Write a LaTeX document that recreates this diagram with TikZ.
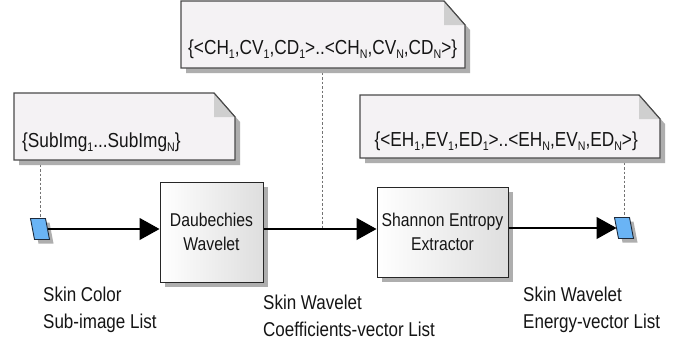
\documentclass[tikz,border=0pt]{standalone}
\usepackage{fontspec}
\setmainfont{Liberation Sans}[FakeStretch=0.85]
\usetikzlibrary{arrows.meta,shadows}

\definecolor{notefill}{HTML}{F4F2F4}
\definecolor{noteedge}{HTML}{4A4A4A}
\definecolor{foldfill}{HTML}{CFCFCF}
\definecolor{shadowgray}{HTML}{AEAEAE}
\definecolor{pinblue}{HTML}{6AB4F5}
\definecolor{pinedge}{HTML}{1E2A3A}
\definecolor{boxshade}{HTML}{DEDEDE}
\definecolor{inkcol}{HTML}{151515}

% small lowered index used in the set notation
\newcommand\sbs[1]{\raisebox{-0.22em}{\fontsize{12.5}{12.5}\selectfont #1}}

% UML-style note with a folded top-right corner, drawn round a blank node
\newcommand\foldednote[1]{%
  \fill[shadowgray]
    ([xshift=5pt,yshift=-5pt]#1.north west) -- ([xshift=-16pt,yshift=-5pt]#1.north east)
    -- ([xshift=5pt,yshift=-29pt]#1.north east) -- ([xshift=5pt,yshift=-5pt]#1.south east)
    -- ([xshift=5pt,yshift=-5pt]#1.south west) -- cycle;
  \path[fill=notefill, draw=noteedge, line width=1.1pt, line join=miter]
    (#1.north west) -- ([xshift=-21pt]#1.north east) -- ([yshift=-24pt]#1.north east)
    -- (#1.south east) -- (#1.south west) -- cycle;
  \fill[foldfill] ([xshift=-21pt]#1.north east) -- ([xshift=-21pt,yshift=-24pt]#1.north east)
    -- ([yshift=-24pt]#1.north east) -- cycle;
  \draw[noteedge, line width=1.1pt] ([xshift=-21pt]#1.north east) -- ([yshift=-24pt]#1.north east);
}

% slanted data pin (parallelogram) drawn over a blank node, with its shadow
\newcommand\datapin[1]{%
  \fill[shadowgray]
    ([xshift=2pt,yshift=-4pt]#1.north west) -- ([xshift=2pt,yshift=-4pt]#1.north east)
    -- ([xshift=6pt,yshift=-4pt]#1.south east) -- ([xshift=6pt,yshift=-4pt]#1.south west) -- cycle;
  \path[fill=pinblue, draw=pinedge, line width=0.9pt, line join=miter]
    ([xshift=-2pt]#1.north west) -- ([xshift=-2pt]#1.north east)
    -- ([xshift=2pt]#1.south east) -- ([xshift=2pt]#1.south west) -- cycle;
}

\tikzset{
  notearea/.style={inner sep=0pt, outer sep=0pt, draw=none, rectangle},
  pinarea/.style={inner sep=0pt, outer sep=0pt, draw=none, rectangle,
    minimum width=15pt, minimum height=21pt},
  notetext/.style={inner sep=0pt, text=inkcol, font=\fontsize{20.3}{24}\selectfont},
  procbox/.style={rectangle, draw=black!85, line width=1pt, left color=white, right color=boxshade,
    align=center, inner sep=0pt, text=inkcol, font=\fontsize{18.5}{24}\selectfont,
    drop shadow={shadow xshift=5pt, shadow yshift=-5pt, fill=shadowgray, opacity=1}},
  flow/.style={draw=black, line width=1.1pt, -{Triangle[length=20pt,width=22pt]}},
  tether/.style={draw=black!55, line width=1pt, dash pattern=on 2.5pt off 2pt},
  caption/.style={align=left, inner sep=0pt, text=inkcol, font=\fontsize{20}{26.5}\selectfont}
}

\begin{document}
\begin{tikzpicture}[x=1pt, y=-1pt]
  \useasboundingbox[fill=white] (0,0) rectangle (684,343);

  % note areas
  \node[notearea, minimum width=221pt, minimum height=67pt] (nL) at (124.5,126.5) {};
  \node[notearea, minimum width=284pt, minimum height=67pt] (nT) at (323,34.5) {};
  \node[notearea, minimum width=300pt, minimum height=63pt] (nR) at (510,126.5) {};

  % data pins and the tap point on the middle flow
  \node[pinarea] (pL) at (40,229) {};
  \node[pinarea] (pR) at (624,228) {};
  \coordinate (tap) at (322,229);

  % dashed tethers from the notes
  \draw[tether] (pL |- nL.south) -- (pL.north);
  \draw[tether] (tap |- nT.south) -- (tap);
  \draw[tether] (pR |- nR.south) -- (pR.north);

  \foldednote{nL}
  \foldednote{nT}
  \foldednote{nR}
  \datapin{pL}
  \datapin{pR}

  \node[notetext, anchor=base west] (tL) at (22,147) {\{SubImg\sbs{1}...SubImg\sbs{N}\}};
  \node[notetext, anchor=base west] (tT) at (188,54)
    {\{<CH\sbs{1},CV\sbs{1},CD\sbs{1}>..<CH\sbs{N},CV\sbs{N},CD\sbs{N}>\}};
  \node[notetext, anchor=base east] (tR) at (638,146)
    {\{<EH\sbs{1},EV\sbs{1},ED\sbs{1}>..<EH\sbs{N},EV\sbs{N},ED\sbs{N}>\}};

  \node[procbox, minimum width=103pt, minimum height=100pt] (dw) at (211.5,232) {Daubechies\\Wavelet};
  \node[procbox, minimum width=131pt, minimum height=90pt] (sh) at (442.5,232) {Shannon Entropy\\Extractor};

  % data flow
  \draw[flow] (pL.east) -- (pL.east -| dw.west);
  \draw[flow] (tap -| dw.east) -- (tap -| sh.west);
  \draw[flow] (pR.west -| sh.east) -- (pR.west);

  % captions of the data lists (placed by the baseline of their last line)
  \node[caption, anchor=base west] (cL) at (43,328) {Skin Color\\Sub-image List};
  \node[caption, anchor=base west] (cM) at (263,336) {Skin Wavelet\\Coefficients-vector List};
  \node[caption, anchor=base west] (cR) at (523,328) {Skin Wavelet\\Energy-vector List};
\end{tikzpicture}
\end{document}
